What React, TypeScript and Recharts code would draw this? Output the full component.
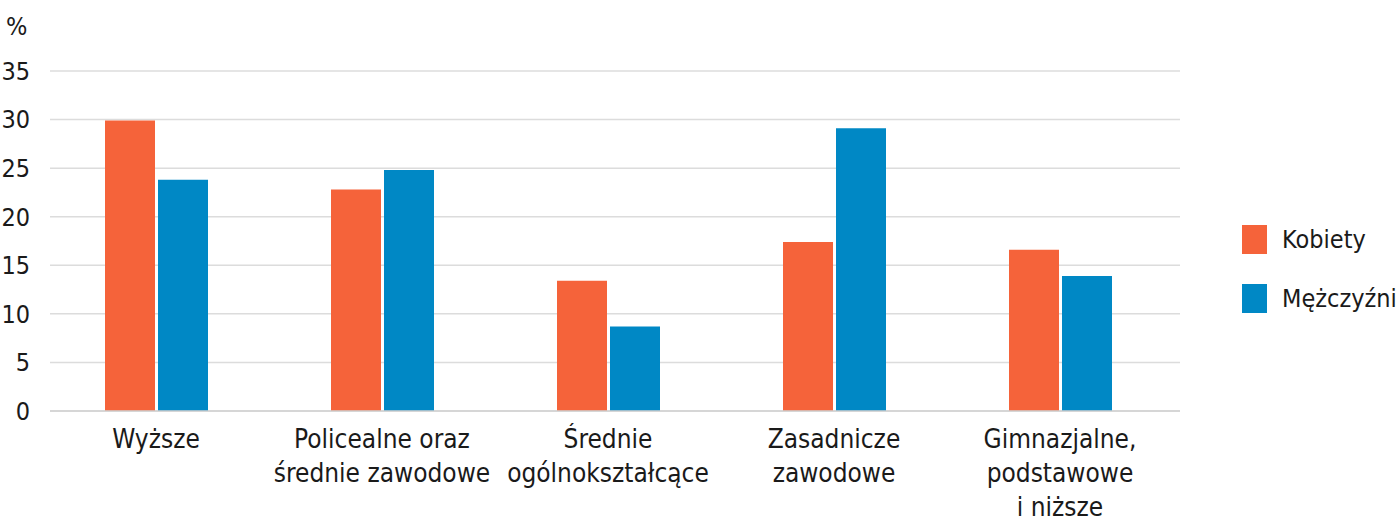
import React from "react";
import { BarChart, Bar, XAxis, YAxis, CartesianGrid } from "recharts";

const categories: string[][] = [
  ["Wyższe"],
  ["Policealne oraz", "średnie zawodowe"],
  ["Średnie", "ogólnokształcące"],
  ["Zasadnicze", "zawodowe"],
  ["Gimnazjalne,", "podstawowe", "i niższe"],
];
const kobiety = [29.9, 22.8, 13.4, 17.4, 16.6];
const mezczyzni = [23.8, 24.8, 8.7, 29.1, 13.9];
const yTicks = [0, 5, 10, 15, 20, 25, 30, 35];
const seriesNames = ["Kobiety", "Mężczyźni"];
const colors = ["#F5633A", "#0088C5"];

const data = categories.map((c, i) => ({
  name: c.join("|"),
  k: kobiety[i],
  m: mezczyzni[i],
}));

const FONT = "'Liberation Sans Narrow', 'DejaVu Sans Condensed', 'Noto Sans', sans-serif";

const XTick = (props: any) => {
  const { x, y, payload } = props;
  const lines = String(payload.value).split("|");
  return (
    <text x={x} y={y} textAnchor="middle" fill="#1a1a1a" fontSize={26} fontFamily={FONT}>
      {lines.map((l, i) => (
        <tspan key={i} x={x} dy={i === 0 ? 29 : 34}>
          {l}
        </tspan>
      ))}
    </text>
  );
};

export default function App() {
  return (
    <div style={{ position: "absolute", left: 0, top: 0, width: 1400, height: 522, background: "#fff", fontFamily: FONT }}>
      <div style={{ position: "absolute", left: 6, top: 13, fontSize: 25, color: "#1a1a1a", lineHeight: "28px" }}>%</div>
      <BarChart
        width={1400}
        height={522}
        data={data}
        margin={{ top: 71, right: 220, bottom: 81, left: 0 }}
        barSize={50}
        barGap={3}
      >
        <CartesianGrid vertical={false} stroke="#dcdcdc" strokeWidth={1.5} />
        <XAxis
          dataKey="name"
          height={30}
          tick={<XTick />}
          tickLine={false}
          axisLine={{ stroke: "#d0d0d0", strokeWidth: 1.5 }}
          interval={0}
          padding={{ left: -7, right: 7 }}
        />
        <YAxis
          width={50}
          domain={[0, 35]}
          ticks={yTicks}
          interval={0}
          tickLine={false}
          axisLine={false}
          tickSize={0}
          tickMargin={20}
          tick={{ fill: "#1a1a1a", fontSize: 25, fontFamily: FONT }}
        />
        <Bar dataKey="k" name={seriesNames[0]} fill={colors[0]} isAnimationActive={false} />
        <Bar dataKey="m" name={seriesNames[1]} fill={colors[1]} isAnimationActive={false} />
      </BarChart>
      {seriesNames.map((n, i) => (
        <div
          key={n}
          style={{ position: "absolute", left: 1242, top: 225 + i * 59, height: 29, display: "flex", alignItems: "center" }}
        >
          <div style={{ width: 25, height: 29, background: colors[i] }} />
          <span style={{ marginLeft: 15, fontSize: 25, color: "#1a1a1a", whiteSpace: "nowrap" }}>{n}</span>
        </div>
      ))}
    </div>
  );
}
